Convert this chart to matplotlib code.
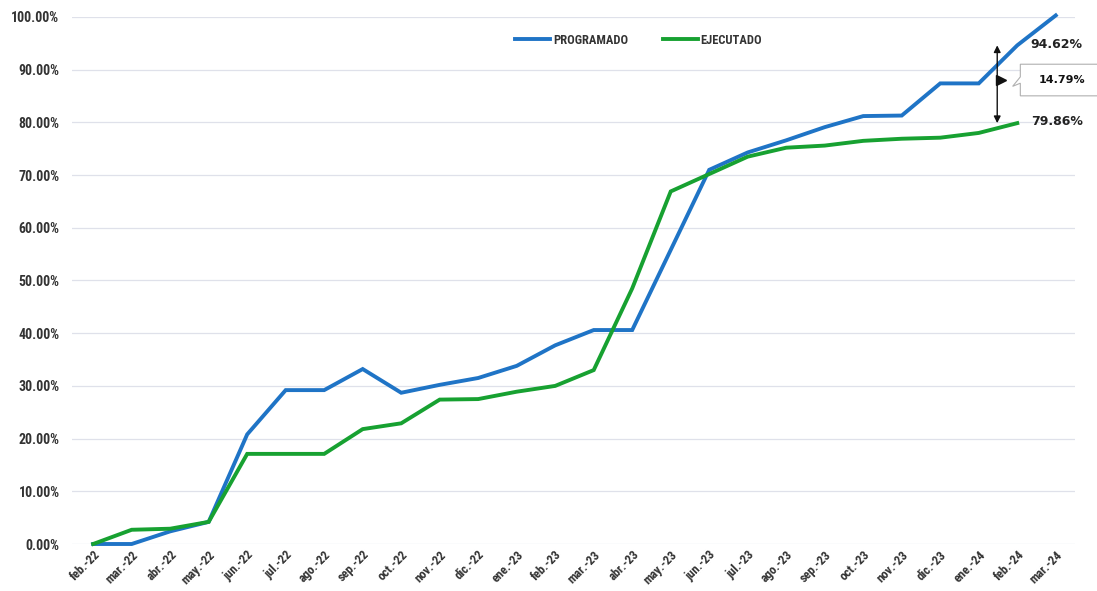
import matplotlib
matplotlib.use("Agg")
import matplotlib.pyplot as plt
from matplotlib.patches import Polygon
from matplotlib.ticker import FuncFormatter
from matplotlib.font_manager import FontProperties

months = ["feb.-22", "mar.-22", "abr.-22", "may.-22", "jun.-22", "jul.-22", "ago.-22",
          "sep.-22", "oct.-22", "nov.-22", "dic.-22", "ene.-23", "feb.-23", "mar.-23",
          "abr.-23", "may.-23", "jun.-23", "jul.-23", "ago.-23", "sep.-23", "oct.-23",
          "nov.-23", "dic.-23", "ene.-24", "feb.-24", "mar.-24"]

programado = [0.0, 0.0, 2.4, 4.2, 20.8, 29.2, 29.2, 33.2, 28.7, 30.2, 31.5, 33.8, 37.7,
              40.6, 40.6, 55.8, 71.0, 74.3, 76.6, 79.1, 81.2, 81.3, 87.4, 87.4, 94.62, 100.3]
ejecutado = [0.0, 2.7, 2.9, 4.2, 17.1, 17.1, 17.1, 21.8, 22.9, 27.4, 27.5, 28.9, 30.0,
             33.0, 48.5, 66.9, 70.2, 73.5, 75.2, 75.6, 76.5, 76.9, 77.1, 78.0, 79.86]

yticks = [0, 10, 20, 30, 40, 50, 60, 70, 80, 90, 100]
label_prog = "PROGRAMADO"
label_ejec = "EJECUTADO"
diff_text = "14.79%"

blue = "#1f74c6"
green = "#17a131"

narrow = ["Liberation Sans Narrow", "Roboto Condensed", "DejaVu Sans"]

fig = plt.figure(figsize=(10.97, 5.91), dpi=100)
ax = fig.add_axes([72 / 1097, 1 - 544 / 591, (1075 - 72) / 1097, 527 / 591])

x = list(range(len(months)))
ax.plot(x[:len(programado)], programado, color=blue, lw=2.8, label=label_prog,
        solid_joinstyle="miter", clip_on=False, zorder=3)
ax.plot(x[:len(ejecutado)], ejecutado, color=green, lw=2.8, label=label_ejec,
        solid_joinstyle="miter", clip_on=False, zorder=3)

ax.set_xlim(-0.55, len(months) - 0.5)
ax.set_ylim(0, 100)
ax.set_yticks(yticks)
ax.yaxis.set_major_formatter(FuncFormatter(lambda v, p: f"{v:.2f}%"))
ax.set_xticks(x)
ax.set_xticklabels(months, rotation=45, ha="right", rotation_mode="anchor",
                   fontsize=9, fontweight="bold", color="#333333", family=narrow)
for lab in ax.get_yticklabels():
    lab.set_fontsize(10)
    lab.set_fontweight("bold")
    lab.set_color("#333333")
    lab.set_family(narrow)
ax.tick_params(axis="both", length=0)
ax.tick_params(axis="y", pad=9)
ax.tick_params(axis="x", pad=3)
ax.grid(axis="y", color="#dfe1ea", lw=0.9)
ax.set_axisbelow(True)
for s in ax.spines.values():
    s.set_visible(False)

leg = ax.legend(loc="upper center", bbox_to_anchor=(0.565, 0.99), ncol=2, frameon=False,
                handlelength=2.8, columnspacing=2.8, handletextpad=0.2,
                prop=FontProperties(family=narrow, weight="bold", size=9))
for t in leg.get_texts():
    t.set_color("#333333")

# Difference annotation
i_last = len(ejecutado) - 1
xa = i_last - 0.52
ax.annotate("", xy=(xa, ejecutado[-1]), xytext=(xa, programado[i_last]),
            arrowprops=dict(arrowstyle="<|-|>", color="#111111", lw=1.0,
                            mutation_scale=10, shrinkA=0, shrinkB=0),
            annotation_clip=False, zorder=5)
ymid = (programado[i_last] + ejecutado[-1]) / 2 + 0.8
ax.plot([xa + 0.1], [ymid], marker=">", color="#111111", ms=7, clip_on=False, zorder=5)

ax.text(i_last + 0.35, programado[i_last] + 0.2, f"{programado[i_last]:.2f}%",
        fontsize=9, fontweight="bold", color="#222222", va="center", ha="left")
ax.text(i_last + 0.35, ejecutado[-1] + 0.4, f"{ejecutado[-1]:.2f}%",
        fontsize=9, fontweight="bold", color="#222222", va="center", ha="left")

# Callout box
bx0, bx1 = i_last + 0.08, i_last + 2.3
by0, by1 = ymid - 3.0, ymid + 3.0
poly = Polygon([(bx0, by1), (bx1, by1), (bx1, by0), (bx0, by0), (bx0, ymid - 0.6),
                (bx0 - 0.2, ymid - 1.2), (bx0, ymid + 0.6)], closed=True,
               facecolor="white", edgecolor="#b0b0b0", lw=0.8, clip_on=False, zorder=4)
ax.add_patch(poly)
ax.text(i_last + 1.15, ymid, diff_text, fontsize=8, fontweight="bold",
        color="#111111", ha="center", va="center", zorder=6)

fig.savefig("out.png", dpi=100, facecolor="white")
